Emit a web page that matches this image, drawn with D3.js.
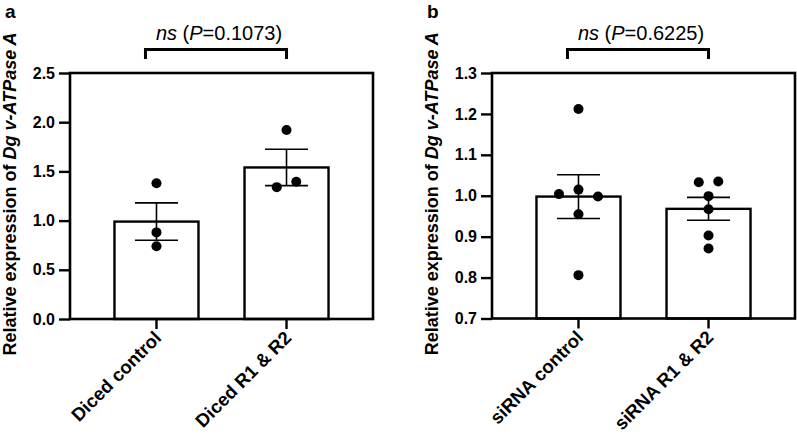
<!DOCTYPE html>
<html>
<head>
<meta charset="utf-8">
<script src="https://cdn.jsdelivr.net/npm/d3@7"></script>
<style>
  html, body { margin: 0; padding: 0; background: #fff; }
  svg { display: block; font-family: "Liberation Sans", Arial, sans-serif; }
</style>
</head>
<body>
<svg id="chart" width="797" height="444"></svg>
<script>
// ---- Data ----
const categoriesA = ["Diced control", "Diced R1 & R2"];
const meansA = [0.99, 1.54];
const semA = [0.19, 0.185];
const pointsA = [[1.38, 0.88, 0.74], [1.92, 1.34, 1.395]];
const yDomainA = [0, 2.5];
const yTicksA = [0, 0.5, 1.0, 1.5, 2.0, 2.5];
const pValueA = "0.1073";

const categoriesB = ["siRNA control", "siRNA R1 & R2"];
const meansB = [0.998, 0.968];
const semB = [0.0535, 0.028];
const pointsB = [[1.212, 1.004, 1.015, 0.998, 0.955, 0.806], [1.033, 1.035, 0.999, 0.967, 0.903, 0.871]];
const yDomainB = [0.7, 1.3];
const yTicksB = [0.7, 0.8, 0.9, 1.0, 1.1, 1.2, 1.3];
const pValueB = "0.6225";

const yLabelPlain = "Relative expression of ";
const yLabelItalic = "Dg v-ATPase A";

const svg = d3.select("#chart");
const FONT = "'Liberation Sans', Arial, sans-serif";

function drawPanel(cfg) {
  const { letter, letterX, left, right, top, bottom, cats, means, sems, points, yDomain, yTicks, pValue, yLabelX } = cfg;
  const g = svg.append("g");

  const x = d3.scaleBand().domain(cats).range([left, right]).paddingInner(0.354).paddingOuter(0.342);
  const y = d3.scaleLinear().domain(yDomain).range([bottom, top]);

  // Bars
  g.selectAll("rect.bar").data(cats).join("rect")
    .attr("class", "bar")
    .attr("x", d => x(d))
    .attr("width", x.bandwidth())
    .attr("y", (d, i) => y(means[i]))
    .attr("height", (d, i) => bottom - y(means[i]))
    .attr("fill", "#fff").attr("stroke", "#000").attr("stroke-width", 2.4);

  // Frame
  g.append("rect").attr("x", left).attr("y", top).attr("width", right - left).attr("height", bottom - top)
    .attr("fill", "none").attr("stroke", "#000").attr("stroke-width", 2.6);

  // Error bars
  const capHalf = 21.5;
  cats.forEach((c, i) => {
    const cx = x(c) + x.bandwidth() / 2;
    const hi = y(means[i] + sems[i]), lo = y(means[i] - sems[i]);
    const eg = g.append("g").attr("stroke", "#000").attr("stroke-width", 1.6);
    eg.append("line").attr("x1", cx).attr("x2", cx).attr("y1", hi).attr("y2", lo);
    eg.append("line").attr("x1", cx - capHalf).attr("x2", cx + capHalf).attr("y1", hi).attr("y2", hi);
    eg.append("line").attr("x1", cx - capHalf).attr("x2", cx + capHalf).attr("y1", lo).attr("y2", lo);
  });

  // Dots (simple centred swarm: points that overlap vertically are spread symmetrically)
  const r = 5, spacing = 19.5;
  cats.forEach((c, ci) => {
    const cx = x(c) + x.bandwidth() / 2;
    const pts = points[ci].map((v, i) => ({ v, i, py: y(v) })).sort((a, b) => a.py - b.py);
    const groups = [];
    pts.forEach(p => {
      const gLast = groups[groups.length - 1];
      if (gLast && p.py - gLast[0].py < 2 * r) gLast.push(p); else groups.push([p]);
    });
    groups.forEach(grp => {
      grp.sort((a, b) => a.i - b.i);
      grp.forEach((p, k) => { p.px = cx + (k - (grp.length - 1) / 2) * spacing; });
    });
    g.selectAll(null).data(pts).join("circle")
      .attr("cx", d => d.px).attr("cy", d => d.py).attr("r", r).attr("fill", "#000");
  });

  // Y axis
  const yAxis = d3.axisLeft(y).tickValues(yTicks).tickFormat(d3.format(".1f")).tickSize(11).tickPadding(4);
  const ya = g.append("g").attr("transform", `translate(${left},0)`).call(yAxis);
  ya.select(".domain").remove();
  ya.selectAll(".tick line").attr("stroke", "#000").attr("stroke-width", 2.4);
  ya.selectAll(".tick text").attr("font-size", 16).attr("font-weight", "bold").attr("fill", "#000")
    .attr("font-family", FONT);

  // X axis
  const xAxis = d3.axisBottom(x).tickSize(10).tickPadding(0);
  const xa = g.append("g").attr("transform", `translate(0,${bottom})`).call(xAxis);
  xa.select(".domain").remove();
  xa.selectAll(".tick line").attr("stroke", "#000").attr("stroke-width", 2.4);
  xa.selectAll(".tick text")
    .attr("font-size", 18.5).attr("font-weight", "bold").attr("fill", "#000")
    .attr("font-family", FONT)
    .attr("text-anchor", "end").attr("dy", null)
    .attr("transform", "translate(6,20) rotate(-45)")
    .attr("y", 0).attr("x", 0);

  // Y label
  const yl = g.append("text")
    .attr("transform", `translate(${yLabelX},${(top + bottom) / 2 - 2}) rotate(-90)`)
    .attr("text-anchor", "middle").attr("font-size", 18).attr("font-weight", "bold").attr("fill", "#000");
  yl.append("tspan").text(yLabelPlain);
  yl.append("tspan").attr("font-style", "italic").text(yLabelItalic);

  // Significance bracket
  const c1 = x(cats[0]) + x.bandwidth() / 2 - 11;
  const c2 = x(cats[1]) + x.bandwidth() / 2;
  const by = 49.5, legBottom = 59;
  g.append("path")
    .attr("d", `M${c1},${legBottom}V${by}H${c2}V${legBottom}`)
    .attr("fill", "none").attr("stroke", "#000").attr("stroke-width", 3);
  const st = g.append("text").attr("x", (c1 + c2) / 2 + 3).attr("y", 40)
    .attr("text-anchor", "middle").attr("font-size", 20).attr("fill", "#000");
  st.append("tspan").attr("font-style", "italic").text("ns");
  st.append("tspan").text(" (");
  st.append("tspan").attr("font-style", "italic").text("P");
  st.append("tspan").text("=" + pValue + ")");

  // Panel letter
  g.append("text").attr("x", letterX).attr("y", 18).attr("font-size", 19).attr("font-weight", "bold")
    .attr("fill", "#000").text(letter);
}

drawPanel({ letter: "a", letterX: 5, left: 70, right: 373, top: 73, bottom: 319,
  cats: categoriesA, means: meansA, sems: semA, points: pointsA,
  yDomain: yDomainA, yTicks: yTicksA, pValue: pValueA, yLabelX: 15.5 });

drawPanel({ letter: "b", letterX: 427, left: 492, right: 795, top: 73, bottom: 318.5,
  cats: categoriesB, means: meansB, sems: semB, points: pointsB,
  yDomain: yDomainB, yTicks: yTicksB, pValue: pValueB, yLabelX: 438 });
</script>
</body>
</html>
